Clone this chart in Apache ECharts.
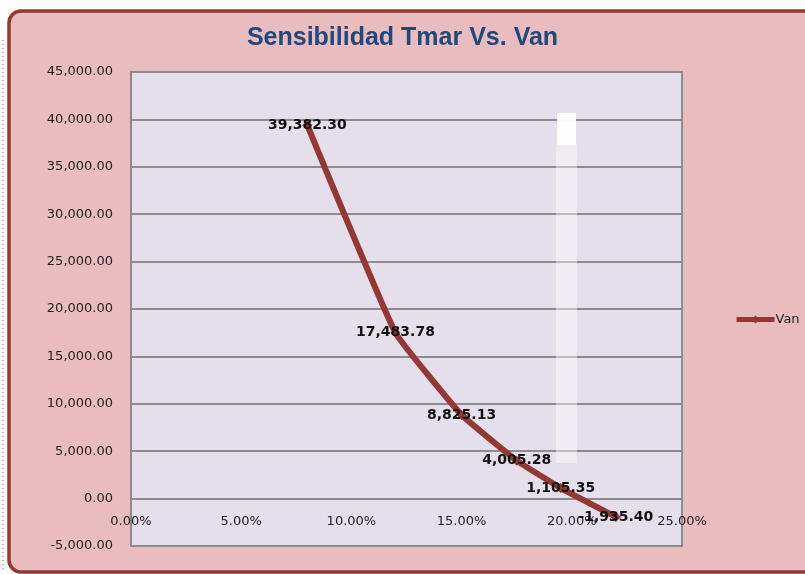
<!DOCTYPE html>
<html>
<head>
<meta charset="utf-8">
<script src="https://cdn.jsdelivr.net/npm/echarts@6/dist/echarts.min.js"></script>
<style>
  html, body { margin: 0; padding: 0; background: #fff; }
  #chart { width: 805px; height: 574px; }
</style>
</head>
<body>
<div id="chart"></div>
<script>
// Tmar (tasa) vs Van
const tmar = [0.08, 0.12, 0.15, 0.175, 0.195, 0.22];
const van = [39382.30, 17483.78, 8825.13, 4005.28, 1105.35, -1935.40];
const seriesName = "Van";
const titleText = "Sensibilidad Tmar Vs. Van";

const chart = echarts.init(document.getElementById("chart"));

function fmtNum(v, dec) {
  return Number(v).toLocaleString("en-US", { minimumFractionDigits: dec, maximumFractionDigits: dec });
}

const points = tmar.map((x, i) => [x, van[i]]);

// grid geometry (px)
const gridTop = 72, gridBottom = 28, chartH = 574;
const yMin = -5000, yMax = 45000;
// the x axis sits on the zero line, like in the excel chart
const plotH = chartH - gridTop - gridBottom;
const zeroOffset = -plotH * (0 - yMin) / (yMax - yMin);

const option = {
  animation: false,
  graphic: [
    {
      type: "rect",
      z: -10,
      shape: { x: 9, y: 11, width: 810, height: 561, r: 12 },
      style: { fill: "#e9bcc0", stroke: "#953735", lineWidth: 3.5 }
    },
    {
      type: "line",
      z: -10,
      shape: { x1: 3, y1: 40, x2: 3, y2: 572 },
      style: { stroke: "#b05050", lineWidth: 1, lineDash: [1, 3] }
    },
    {
      // white speckled strip seen in the original picture
      type: "rect",
      z: 1,
      shape: { x: 556, y: 145, width: 21, height: 318 },
      style: { fill: "rgba(255,255,255,0.4)" }
    },
    {
      type: "rect",
      z: 1,
      shape: { x: 557, y: 113, width: 19, height: 32 },
      style: { fill: "rgba(255,255,255,0.95)" }
    }
  ],
  title: {
    text: titleText,
    left: "center",
    top: 21,
    textStyle: {
      fontFamily: "Liberation Sans Narrow, Liberation Sans, sans-serif",
      fontWeight: "bold",
      fontSize: 25,
      color: "#21497c"
    }
  },
  legend: {
    data: [seriesName],
    left: 729,
    top: 308,
    itemWidth: 38,
    itemHeight: 10,
    itemGap: 2,
    lineStyle: { width: 5 },
    textStyle: { color: "#222", fontSize: 13, fontFamily: "DejaVu Sans, sans-serif", padding: [0, 0, 0, -4] }
  },
  grid: {
    left: 131,
    top: gridTop,
    right: 123,
    bottom: gridBottom,
    show: true,
    backgroundColor: "#e4dfeb",
    borderColor: "#8c8c8c",
    borderWidth: 2
  },
  xAxis: {
    type: "value",
    min: 0,
    max: 0.25,
    interval: 0.05,
    offset: zeroOffset,
    axisLine: { onZero: false, lineStyle: { color: "#8c8c8c", width: 2 } },
    axisTick: { show: false },
    splitLine: { show: false },
    axisLabel: {
      margin: 17,
      color: "#222",
      fontSize: 13,
      fontFamily: "DejaVu Sans, sans-serif",
      formatter: v => (v * 100).toFixed(2) + "%"
    }
  },
  yAxis: {
    type: "value",
    min: yMin,
    max: yMax,
    interval: 5000,
    axisLine: { show: false, onZero: false },
    axisTick: { show: false },
    splitLine: { lineStyle: { color: "#8c8c8c", width: 2 } },
    axisLabel: {
      margin: 18,
      color: "#222",
      fontSize: 13,
      fontFamily: "DejaVu Sans, sans-serif",
      formatter: v => fmtNum(v, 2)
    }
  },
  series: [
    {
      name: seriesName,
      type: "line",
      data: points,
      smooth: 0.1,
      symbol: "diamond",
      symbolSize: 10,
      z: 3,
      itemStyle: { color: "#953735" },
      lineStyle: { color: "#953735", width: 6 },
      label: {
        show: true,
        position: "inside",
        color: "#111",
        fontWeight: "bold",
        fontSize: 14,
        fontFamily: "DejaVu Sans, sans-serif",
        formatter: p => fmtNum(p.value[1], 2)
      }
    }
  ]
};

chart.setOption(option);
</script>
</body>
</html>
